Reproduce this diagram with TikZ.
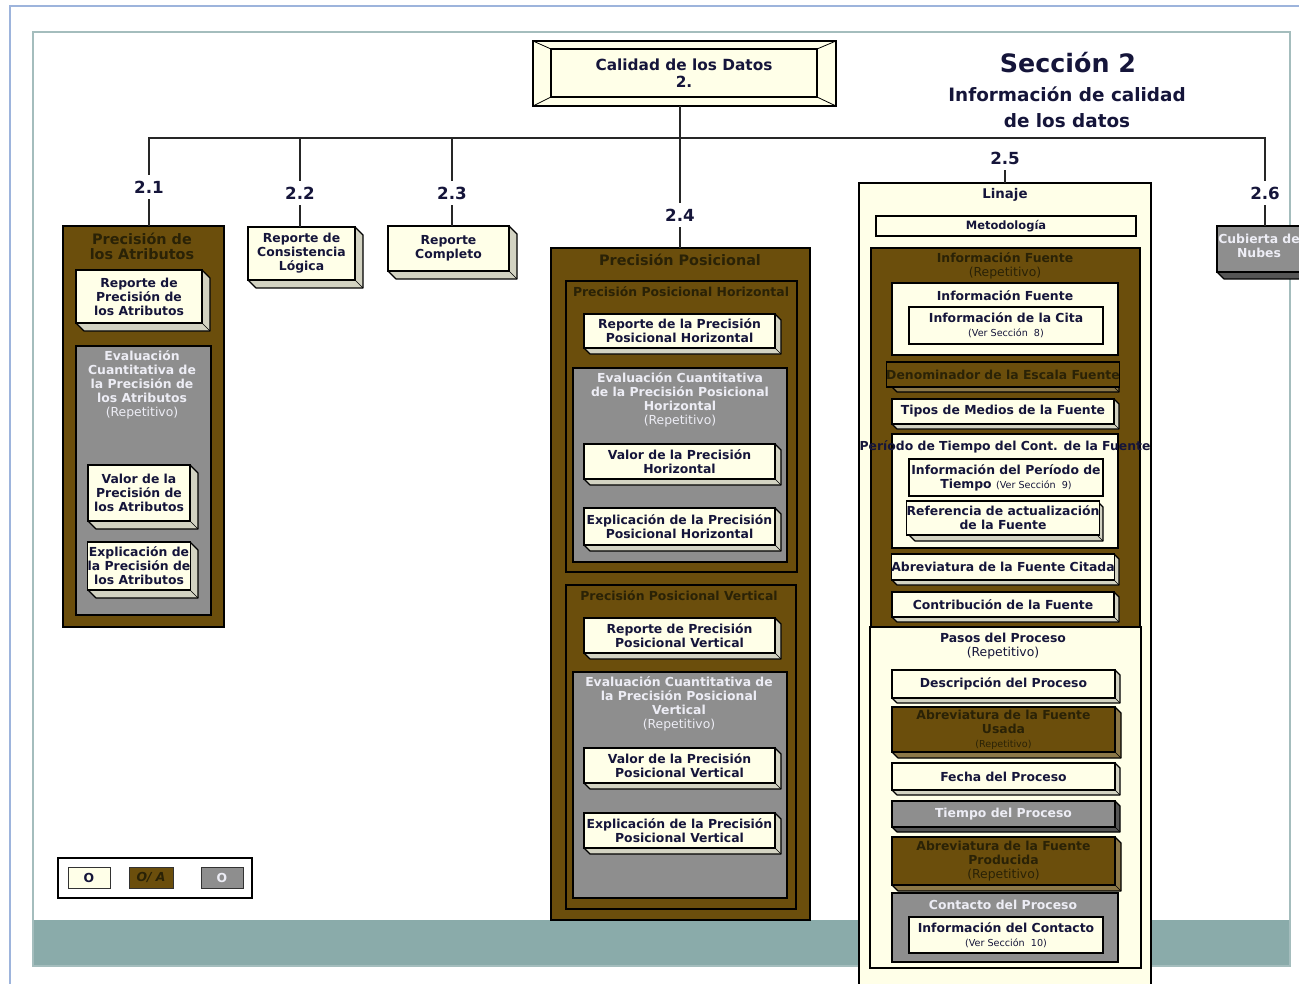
\documentclass[tikz,border=0pt]{standalone}
\usepackage{fontspec}
\setmainfont{DejaVu Sans}
\usetikzlibrary{calc}
\definecolor{crm}{HTML}{FFFFE8}
\definecolor{crmside}{HTML}{D3D3C2}
\definecolor{crmtxt}{HTML}{15153A}
\definecolor{brn}{HTML}{6B4E0C}
\definecolor{brnside}{HTML}{8C7848}
\definecolor{brntxt}{HTML}{2A2206}
\definecolor{gry}{HTML}{8E8E8E}
\definecolor{gryside}{HTML}{555555}
\definecolor{grytxt}{HTML}{EDEDF5}
\definecolor{bandc}{HTML}{8AABAA}
\definecolor{framec}{HTML}{A4BDBD}
\definecolor{bluec}{HTML}{9DB4DC}
\newcommand\xfb{\fontsize{9.3pt}{10.5pt}\selectfont\bfseries}
\newcommand\xfr{\fontsize{9.3pt}{10.5pt}\selectfont\mdseries}
\newcommand\xfs{\fontsize{7.2pt}{8pt}\selectfont\mdseries}
\newcommand\xft{\fontsize{10.8pt}{11.3pt}\selectfont\bfseries}
% plain box: style, name, x1,y1,x2,y2, text
\newcommand\xbx[7]{%
  \node[box,#1,minimum width={(#5-#3)*0.75pt},minimum height={(#6-#4)*0.75pt}] (#2) at ({(#3+#5)/2},{(#4+#6)/2}) {#7};}
% 3D box: kind, name, x1,y1,x2,y2, depth, text
\newcommand\cubx[8]{%
  \filldraw[fill=#1side,draw=black,line join=round] (#3,#6) -- ({#3+#7},{#6+#7}) -- ({#5+#7},{#6+#7}) -- ({#5+#7},{#4+#7}) -- (#5,#4) -- (#5,#6) -- cycle;
  \draw[line width=0.5pt] (#5,#6) -- ({#5+#7},{#6+#7});
  \xbx{fill=#1,text=#1txt}{#2}{#3}{#4}{#5}{#6}{#8}}
\begin{document}
\begin{tikzpicture}[x=0.75pt,y=-0.75pt,line width=0.9pt,
  box/.style={draw=black,inner sep=0pt,outer sep=0pt,align=center,font=\xfb},
  lab/.style={font=\fontsize{12.5pt}{14pt}\selectfont\bfseries,text=crmtxt,inner xsep=1pt,inner ysep=4pt},
  conn/.style={draw=black!85,line width=1pt},
  tx/.style={font=\xfb,align=center,inner sep=1pt}]
\path[use as bounding box] (0,0) rectangle (1299,984);
\fill[white] (0,0) rectangle (1299,984);
\begin{scope}
\clip (0,0) rectangle (1299,984);
% frame
\fill[bandc] (33,920) rectangle (1290,966);
\draw[framec,line width=0.8pt] (33,32) rectangle (1290,966);
\draw[bluec,line width=2pt] (10,984) -- (10,6) -- (1299,6);

% title
\node[box,fill=crm,minimum width={303*0.75pt},minimum height={65*0.75pt}] (tout) at (684.5,73.5) {};
\xbx{fill=crm,text=crmtxt,font=\fontsize{11.5pt}{13pt}\selectfont\bfseries}{t}{551}{49}{817}{97}{Calidad de los Datos\\2.}
\draw[line width=0.6pt] (tout.north west) -- (t.north west) (tout.north east) -- (t.north east)
  (tout.south west) -- (t.south west) (tout.south east) -- (t.south east);
\node[font=\fontsize{19pt}{22pt}\selectfont\bfseries,text=crmtxt] (s1) at (1068,63) {Sección 2};
\node[font=\fontsize{13.8pt}{19.5pt}\selectfont\bfseries,text=crmtxt,align=center] (s2) at (1067,107) {Información de calidad\\de los datos};

% labels
\coordinate (bar) at (0,138);
\node[lab] (l21) at (149,187) {2.1};
\node[lab] (l22) at (300,193) {2.2};
\node[lab] (l23) at (452,193) {2.3};
\node[lab] (l24) at (680,215) {2.4};
\node[lab] (l25) at (1005,158) {2.5};
\node[lab] (l26) at (1265,193) {2.6};

% 2.1
\xbx{fill=brn}{b21}{63}{226}{224}{627}{}
\node[tx,font=\xft,text=brntxt] (b21t) at (142,246) {Precisión de\\los Atributos};
\cubx{crm}{r21}{76}{270}{202}{323}{8}{Reporte de\\Precisión de\\los Atributos}
\xbx{fill=gry}{g21}{76}{346}{211}{615}{}
\node[tx,text=grytxt] (g21t) at (142,385) {Evaluación\\Cuantitativa de\\la Precisión de\\los Atributos\\{\xfr(Repetitivo)}};
\cubx{crm}{v21}{88}{465}{190}{521}{8}{Valor de la\\Precisión de\\los Atributos}
\cubx{crm}{e21}{88}{542}{190}{590}{8}{Explicación de\\la Precisión de\\los Atributos}

% 2.2 / 2.3
\cubx{crm}{b22}{248}{227}{355}{280}{8}{Reporte de\\Consistencia\\Lógica}
\cubx{crm}{b23}{388}{226}{509}{271}{8}{Reporte\\Completo}

% 2.4
\xbx{fill=brn}{b24}{551}{248}{810}{920}{}
\node[tx,font=\xft,text=brntxt] (b24t) at (680,260) {Precisión Posicional};
\xbx{fill=brn}{h24}{566}{281}{797}{572}{}
\node[tx,text=brntxt] (h24t) at (681,292) {Precisión Posicional Horizontal};
\cubx{crm}{rh}{584}{314}{775}{348}{6}{Reporte de la Precisión\\Posicional Horizontal}
\xbx{fill=gry}{gh}{573}{368}{787}{562}{}
\node[tx,text=grytxt] (ght) at (680,400) {Evaluación Cuantitativa\\de la Precisión Posicional\\Horizontal\\{\xfr(Repetitivo)}};
\cubx{crm}{vh}{584}{444}{775}{479}{6}{Valor de la Precisión\\Horizontal}
\cubx{crm}{eh}{584}{508}{775}{545}{6}{Explicación de la Precisión\\Posicional Horizontal}
\xbx{fill=brn}{v24}{566}{585}{796}{909}{}
\node[tx,text=brntxt] (v24t) at (679,596) {Precisión Posicional Vertical};
\cubx{crm}{rv}{584}{618}{775}{653}{6}{Reporte de Precisión\\Posicional Vertical}
\xbx{fill=gry}{gv}{573}{672}{787}{898}{}
\node[tx,text=grytxt] (gvt) at (679,704) {Evaluación Cuantitativa de\\la Precisión Posicional\\Vertical\\{\xfr(Repetitivo)}};
\cubx{crm}{vv}{584}{748}{775}{783}{6}{Valor de la Precisión\\Posicional Vertical}
\cubx{crm}{ev}{584}{813}{775}{848}{6}{Explicación de la Precisión\\Posicional Vertical}

% 2.5
\xbx{fill=crm}{b25}{859}{183}{1151}{1000}{}
\node[tx,text=crmtxt,font=\fontsize{10pt}{11pt}\selectfont\bfseries] (b25t) at (1005,195) {Linaje};
\xbx{fill=crm,text=crmtxt,font=\fontsize{8.6pt}{10pt}\selectfont\bfseries}{met}{876}{216}{1136}{236}{Metodología}
\xbx{fill=brn}{if}{871}{248}{1140}{627}{}
\node[tx,text=brntxt] (ift) at (1005,266) {Información Fuente\\{\xfr(Repetitivo)}};
\xbx{fill=crm}{ifin}{892}{283}{1118}{355}{}
\node[tx,text=crmtxt] (ifint) at (1005,296) {Información Fuente};
\xbx{fill=crm,text=crmtxt}{cita}{909}{307}{1103}{344}{Información de la Cita\\{\xfs(Ver Sección\ \ 8)}}
\cubx{brn}{den}{892}{362}{1114}{387}{5}{Denominador de la Escala Fuente}
\cubx{crm}{tip}{892}{399}{1114}{424}{5}{Tipos de Medios de la Fuente}
\xbx{fill=crm}{per}{892}{434}{1118}{548}{}
\node[tx,text=crmtxt] (pert) at (1005,447) {Período de Tiempo del Cont. de la Fuente};
\xbx{fill=crm,text=crmtxt}{pinf}{909}{459}{1103}{496}{Información del Período de\\Tiempo {\xfs(Ver Sección\ \ 9)}}
\cubx{crm}{refa}{909}{501}{1097}{535}{6}{Referencia de actualización\\de la Fuente}
\cubx{crm}{abc}{892}{554}{1114}{580}{5}{Abreviatura de la Fuente Citada}
\cubx{crm}{cont}{892}{592}{1114}{617}{5}{Contribución de la Fuente}
\xbx{fill=crm}{pas}{870}{627}{1141}{968}{}
\node[tx,text=crmtxt] (past) at (1003,646) {Pasos del Proceso\\{\xfr(Repetitivo)}};
\cubx{crm}{desc}{892}{670}{1115}{698}{5}{Descripción del Proceso}
\cubx{brn}{aus}{892}{707}{1115}{752}{6}{Abreviatura de la Fuente\\Usada\\{\xfs(Repetitivo)}}
\cubx{crm}{fec}{892}{763}{1115}{790}{5}{Fecha del Proceso}
\cubx{gry}{tpo}{892}{801}{1115}{827}{5}{Tiempo del Proceso}
\cubx{brn}{apr}{892}{837}{1115}{885}{6}{Abreviatura de la Fuente\\Producida\\{\xfr(Repetitivo)}}
\xbx{fill=gry}{cp}{892}{893}{1118}{962}{}
\node[tx,text=grytxt] (cpt) at (1003,905) {Contacto del Proceso};
\xbx{fill=crm,text=crmtxt}{icon}{909}{917}{1103}{953}{Información del Contacto\\{\xfs(Ver Sección\ \ 10)}}

% 2.6
\cubx{gry}{b26}{1217}{226}{1313}{272}{7}{}
\node[tx,text=grytxt] (b26t) at (1259,246) {Cubierta de\\Nubes};

% legend
\xbx{fill=white}{leg}{58}{858}{252}{898}{}
\xbx{fill=crm,text=crmtxt,draw=black!80,line width=0.7pt}{lo1}{68}{867}{110}{888}{O}
\xbx{fill=brn,text=brntxt,draw=black!80,line width=0.7pt,font=\xfb\itshape}{lo2}{129}{867}{173}{888}{O/ A}
\xbx{fill=gry,text=grytxt,draw=black!80,line width=0.7pt}{lo3}{201}{867}{243}{888}{O}

% connectors
\draw[conn] (l21.north) -- (l21.north |- bar) -- (l26.north |- bar) -- (l26.north);
\draw[conn] (tout.south -| l24) -- (l24.north);
\draw[conn] (l22.north) -- (l22.north |- bar);
\draw[conn] (l23.north) -- (l23.north |- bar);
\draw[conn] (l21.south) -- (l21.south |- b21.north);
\draw[conn] (l22.south) -- (l22.south |- b22.north);
\draw[conn] (l23.south) -- (l23.south |- b23.north);
\draw[conn] (l24.south) -- (l24.south |- b24.north);
\draw[conn] (l25.south) -- (l25.south |- b25.north);
\draw[conn] (l26.south) -- (l26.south |- b26.north);
\end{scope}
\end{tikzpicture}
\end{document}
